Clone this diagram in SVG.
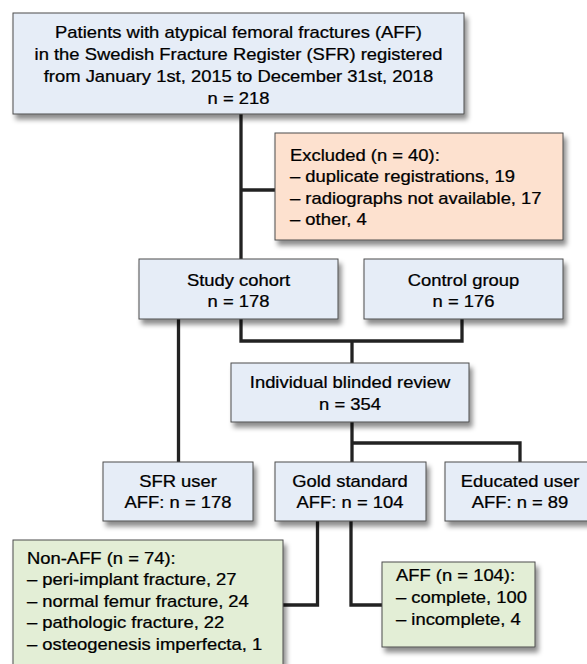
<svg xmlns="http://www.w3.org/2000/svg" width="587" height="664" viewBox="0 0 587 664">
<defs>
<filter id="sh" x="-10%" y="-10%" width="130%" height="140%">
<feDropShadow dx="3" dy="5" stdDeviation="2.5" flood-color="#000" flood-opacity="0.45"/>
</filter>
<style>
.box{stroke:#4d4d4d;stroke-width:1;filter:url(#sh)}
.blue{fill:#e6edf7}
.peach{fill:#fde1cf}
.green{fill:#e3eed6}
text{font-family:"Liberation Sans",Arial,sans-serif;font-size:16px;fill:#000;stroke:#000;stroke-width:0.25}
.c{text-anchor:middle}
.conn{fill:none;stroke:#222;stroke-width:3.3}
</style>
</defs>
<rect width="587" height="664" fill="#fff"/>

<g id="connectors">
<path class="conn" d="M241 114 V259"/>
<path class="conn" d="M241 190 H275"/>
<path class="conn" d="M178.5 319 V462"/>
<path class="conn" d="M241 319 V341 H462 V319"/>
<path class="conn" d="M352 341 V363"/>
<path class="conn" d="M352 422 V462"/>
<path class="conn" d="M352 443 H520 V462"/>
<path class="conn" d="M317.5 521 V605 H283"/>
<path class="conn" d="M351 521 V605 H382"/>
</g>

<g id="n_patients">
<rect class="box blue" x="13" y="13" width="451" height="101"/>
<text class="c" transform="translate(238.5 38) scale(1.15 1)">Patients with atypical femoral fractures (AFF)</text>
<text class="c" transform="translate(238.5 60) scale(1.15 1)">in the Swedish Fracture Register (SFR) registered</text>
<text class="c" transform="translate(238.5 82) scale(1.15 1)">from January 1st, 2015 to December 31st, 2018</text>
<text class="c" transform="translate(238.5 104) scale(1.15 1)">n = 218</text>
</g>

<g id="n_excluded">
<rect class="box peach" x="275" y="133" width="288" height="107"/>
<text transform="translate(290 161) scale(1.15 1)"><tspan x="0" y="0">Excluded (n = 40):</tspan><tspan x="0" y="21.5">– duplicate registrations, 19</tspan><tspan x="0" y="43">– radiographs not available, 17</tspan><tspan x="0" y="64.5">– other, 4</tspan></text>
</g>

<g id="n_study">
<rect class="box blue" x="139" y="259" width="199" height="60"/>
<text class="c" transform="translate(238.5 286) scale(1.15 1)">Study cohort</text>
<text class="c" transform="translate(238.5 307) scale(1.15 1)">n = 178</text>
</g>

<g id="n_control">
<rect class="box blue" x="364" y="259" width="199" height="60"/>
<text class="c" transform="translate(463.5 286) scale(1.15 1)">Control group</text>
<text class="c" transform="translate(463.5 307) scale(1.15 1)">n = 176</text>
</g>

<g id="n_review">
<rect class="box blue" x="231" y="363" width="238" height="59"/>
<text class="c" transform="translate(350 388) scale(1.15 1)">Individual blinded review</text>
<text class="c" transform="translate(350 410) scale(1.15 1)">n = 354</text>
</g>

<g id="n_sfruser">
<rect class="box blue" x="103" y="462" width="150" height="59"/>
<text class="c" transform="translate(178 486.5) scale(1.15 1)">SFR user</text>
<text class="c" transform="translate(178 508) scale(1.15 1)">AFF: n = 178</text>
</g>

<g id="n_gold">
<rect class="box blue" x="275" y="462" width="151" height="59"/>
<text class="c" transform="translate(350 486.5) scale(1.15 1)">Gold standard</text>
<text class="c" transform="translate(350 508) scale(1.15 1)">AFF: n = 104</text>
</g>

<g id="n_educated">
<rect class="box blue" x="445" y="462" width="150" height="59"/>
<text class="c" transform="translate(520 486.5) scale(1.15 1)">Educated user</text>
<text class="c" transform="translate(520 508) scale(1.15 1)">AFF: n = 89</text>
</g>

<g id="n_nonaff">
<rect class="box green" x="13" y="540" width="270" height="140"/>
<text transform="translate(27 564) scale(1.15 1)"><tspan x="0" y="0">Non-AFF (n = 74):</tspan><tspan x="0" y="21.5">– peri-implant fracture, 27</tspan><tspan x="0" y="43">– normal femur fracture, 24</tspan><tspan x="0" y="64.5">– pathologic fracture, 22</tspan><tspan x="0" y="86">– osteogenesis imperfecta, 1</tspan></text>
</g>

<g id="n_aff">
<rect class="box green" x="382" y="562" width="153" height="85"/>
<text transform="translate(396 581) scale(1.15 1)"><tspan x="0" y="0">AFF (n = 104):</tspan><tspan x="0" y="22">– complete, 100</tspan><tspan x="0" y="44">– incomplete, 4</tspan></text>
</g>
</svg>
